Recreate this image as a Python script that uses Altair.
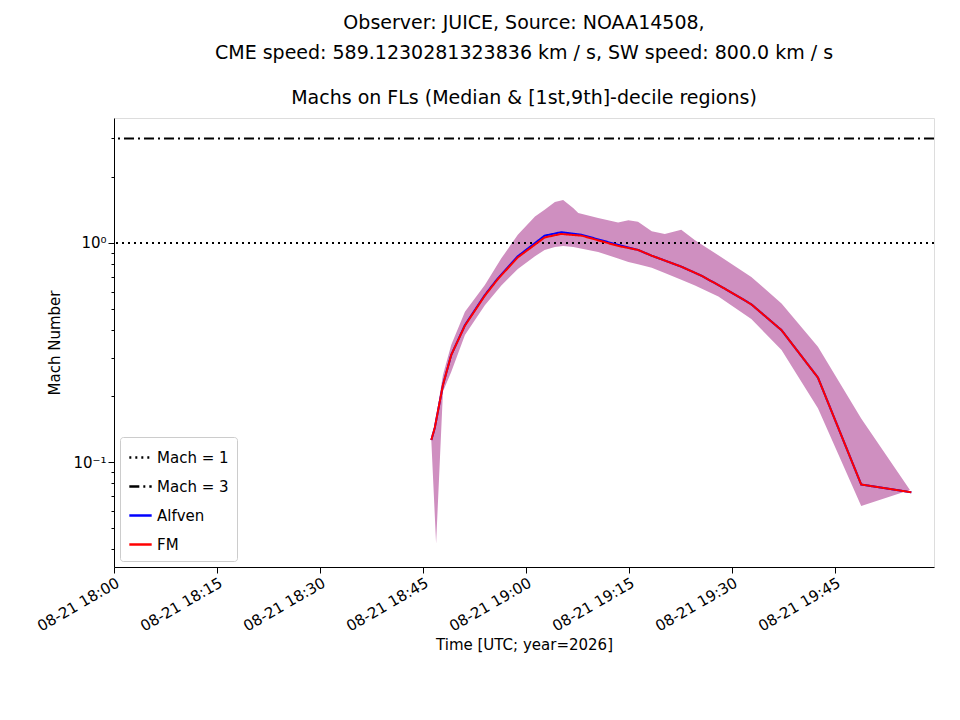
import pandas as pd
import altair as alt

FONT = "DejaVu Sans"
t0 = pd.Timestamp("2026-08-21 18:00")

# median Mach line (minutes after 18:00, value)
line_min = [46.2, 46.7, 47.9, 49.1, 51.1, 54.0, 55.9, 58.8, 62.7, 65.1, 68.1,
            73.4, 76.3, 78.3, 82.6, 85.5, 88.9, 92.8, 97.2, 102.5, 108.8, 116.1]
alfven = [0.126, 0.143, 0.225, 0.308, 0.422, 0.579, 0.690, 0.870, 1.08, 1.12, 1.09,
          0.98, 0.93, 0.875, 0.78, 0.71, 0.62, 0.525, 0.40, 0.243, 0.079, 0.0728]
fm = [0.126, 0.143, 0.225, 0.308, 0.420, 0.575, 0.685, 0.860, 1.06, 1.10, 1.08,
      0.97, 0.93, 0.875, 0.78, 0.71, 0.62, 0.525, 0.40, 0.243, 0.079, 0.0728]

# decile band
band_min = [46.2, 46.9, 47.9, 49.1, 51.1, 54.0, 56.4, 58.8, 61.3, 62.7, 64.2, 65.4,
            66.9, 67.6, 70.5, 73.4, 74.9, 76.3, 78.3, 80.2, 82.6, 84.6, 88.0, 92.8,
            97.2, 102.5, 108.8, 115.9]
band_lo = [0.126, 0.0425, 0.21, 0.258, 0.38, 0.52, 0.64, 0.76, 0.87, 0.93, 0.96, 0.97,
           0.96, 0.95, 0.91, 0.85, 0.82, 0.80, 0.77, 0.73, 0.68, 0.64, 0.57, 0.45,
           0.325, 0.176, 0.063, 0.0745]
band_hi = [0.126, 0.16, 0.25, 0.342, 0.486, 0.643, 0.851, 1.09, 1.32, 1.42, 1.54, 1.57,
           1.44, 1.37, 1.30, 1.24, 1.27, 1.25, 1.13, 1.10, 1.15, 1.03, 0.88, 0.70,
           0.53, 0.336, 0.158, 0.0745]

tick_min = [0, 15, 30, 45, 60, 75, 90, 105]
minor_vals = [0.04, 0.05, 0.06, 0.07, 0.08, 0.09, 0.2, 0.3, 0.4, 0.5, 0.6, 0.7,
              0.8, 0.9, 2, 3]

def ts(mins):
    return [t0 + pd.Timedelta(minutes=m) for m in mins]

lines_df = pd.concat([
    pd.DataFrame({"t": ts(line_min), "v": alfven, "s": "Alfven"}),
    pd.DataFrame({"t": ts(line_min), "v": fm, "s": "FM"}),
])
band_df = pd.DataFrame({"t": ts(band_min), "lo": band_lo, "hi": band_hi})
ref_df = pd.DataFrame({"v": [1.0, 3.0], "s": ["Mach = 1", "Mach = 3"]})

domain = ["Mach = 1", "Mach = 3", "Alfven", "FM"]
color = alt.Color("s:N", scale=alt.Scale(domain=domain, range=["black", "black", "blue", "red"]),
                  legend=alt.Legend(title=None, orient="bottom-left", symbolType="stroke",
                                    symbolStrokeWidth=2.5, symbolSize=500, labelFontSize=15,
                                    labelFont=FONT, strokeColor="#cccccc", padding=8,
                                    fillColor="white", cornerRadius=3, offset=6, rowPadding=8))
dash = alt.StrokeDash("s:N", scale=alt.Scale(domain=domain, range=[[2, 4], [10, 4, 2, 4], [1, 0], [1, 0]]))

ticks_x = ts(tick_min)
xscale = alt.Scale(domain=[t0, t0 + pd.Timedelta(minutes=119.4)])
yscale = alt.Scale(type="log", domain=[0.0332, 3.72], nice=False)
yaxis = alt.Axis(values=[0.1, 1] + minor_vals, title="Mach Number", grid=False,
                 labelExpr="datum.value == 1 ? '10⁰' : (datum.value == 0.1 ? '10⁻¹' : '')",
                 tickSize={"condition": {"test": "datum.value == 1 || datum.value == 0.1", "value": 6}, "value": 3},
                 labelFontSize=15, titleFontSize=15, labelFont=FONT, titleFont=FONT,
                 titleFontWeight="normal", titlePadding=10,
                 tickColor="black", domainColor="black", labelColor="black")
xaxis = alt.Axis(values=[t.isoformat() for t in ticks_x], format="%m-%d %H:%M", labelAngle=-30,
                 labelAlign="right", title="Time [UTC; year=2026]", grid=False, tickSize=6,
                 labelFontSize=15, titleFontSize=15, labelFont=FONT, titleFont=FONT,
                 titleFontWeight="normal",
                 tickColor="black", domainColor="black", labelColor="black")

band = alt.Chart(band_df).mark_area(color="#cf8fc0", opacity=1).encode(
    x=alt.X("t:T", scale=xscale, axis=xaxis),
    y=alt.Y("hi:Q", scale=yscale, axis=yaxis),
    y2="lo:Q",
)
refs = alt.Chart(ref_df).mark_rule(strokeWidth=2).encode(
    y=alt.Y("v:Q", scale=yscale), color=color, strokeDash=dash)
lines = alt.Chart(lines_df).mark_line(strokeWidth=2).encode(
    x="t:T", y=alt.Y("v:Q", scale=yscale), color=color, strokeDash=dash)

chart = (band + refs + lines).properties(
    width=820, height=449,
    title=alt.TitleParams(
        ["Observer: JUICE, Source: NOAA14508,",
         "CME speed: 589.1230281323836 km / s, SW speed: 800.0 km / s"],
        subtitle="Machs on FLs (Median & [1st,9th]-decile regions)",
        font=FONT, fontSize=19, fontWeight="normal", lineHeight=30,
        subtitleFont=FONT, subtitleFontSize=19,
        subtitleColor="black", subtitlePadding=26, anchor="middle", offset=10),
    padding={"left": 26, "top": 6, "right": 16, "bottom": 10},
).configure_view(stroke="black", strokeWidth=1.2).configure(font=FONT)

chart.save("out.html", embed_options={"renderer": "svg", "actions": False})
